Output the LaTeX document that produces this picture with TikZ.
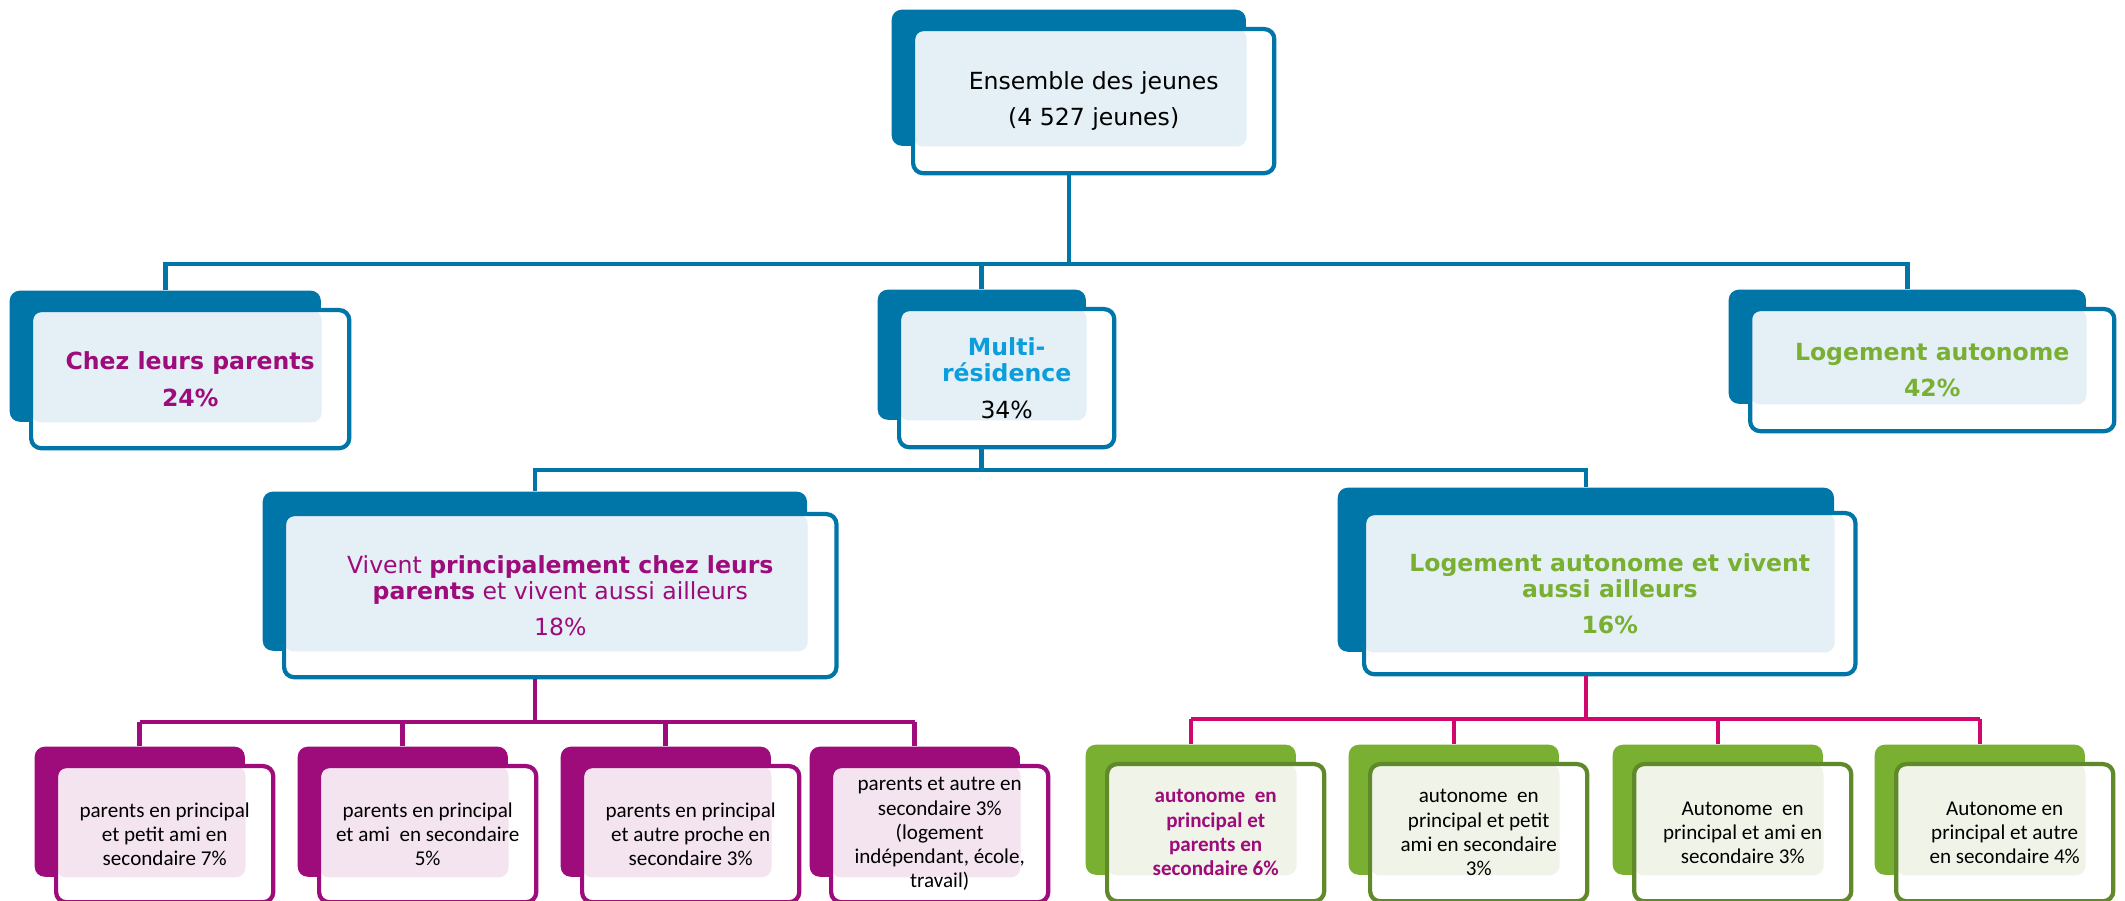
\documentclass[tikz,border=0pt]{standalone}
\usepackage{fontspec}
\setmainfont{DejaVu Sans}
\newfontfamily\calibfont{Carlito}
\usepackage{tikz}
\definecolor{bleuC}{RGB}{0,118,168}
\definecolor{bleuP}{RGB}{228,239,246}
\definecolor{cyanT}{RGB}{12,157,220}
\definecolor{prune}{RGB}{158,11,123}
\definecolor{pruneP}{RGB}{243,228,240}
\definecolor{rose}{RGB}{208,8,110}
\definecolor{vertC}{RGB}{122,176,50}
\definecolor{vertF}{RGB}{96,138,42}
\definecolor{vertP}{RGB}{240,244,232}
\newcommand\prunebf[1]{\textcolor{prune}{\textbf{#1}}}

\begin{document}
\begin{tikzpicture}[x=0.01cm, y=-0.01cm, line join=miter,
  back/.style={rounded corners=0.1cm, inner sep=0pt, anchor=north west},
  front/.style={draw=#1, line width=1.2pt, fill=white, rounded corners=0.1cm, inner sep=0pt,
    anchor=north west, align=center, font=\fontsize{6.7}{7.4}\selectfont},
  pale/.style 2 args={path picture={\fill[#1, rounded corners=0.1cm]
    (path picture bounding box.north west) rectangle (#2.south east);}},
  lien/.style={draw=#1, line width=1.3pt}]
  \useasboundingbox (0,0) rectangle (2125,901);
  %--- Ensemble des jeunes
    \node[back, fill=bleuC, minimum width=3.54cm, minimum height=1.36cm] (top-b) at (891,9) {};
    \node[front=bleuC, pale={bleuP}{top-b}, minimum width=3.61cm, minimum height=1.44cm] (top)
      at ([shift={(20,18)}]top-b.north west) {Ensemble des jeunes\\[3pt](4 527 jeunes)};
  %--- Chez leurs parents
    \node[back, fill=bleuC, minimum width=3.11cm, minimum height=1.31cm] (chez-b) at (9,290) {};
    \node[front=bleuC, pale={bleuP}{chez-b}, text=prune, minimum width=3.18cm, minimum height=1.38cm] (chez)
      at ([shift={(20,18)}]chez-b.north west) {\bfseries Chez leurs parents\\[3pt]\bfseries 24\%};
  %--- Multi-residence
    \node[back, fill=bleuC, minimum width=2.08cm, minimum height=1.30cm] (multi-b) at (877,289) {};
    \node[front=bleuC, pale={bleuP}{multi-b}, minimum width=2.15cm, minimum height=1.38cm] (multi)
      at ([shift={(20,18)}]multi-b.north west)
      {\textcolor{cyanT}{\textbf{Multi-}}\\\textcolor{cyanT}{\textbf{résidence}}\\[3pt]34\%};
  %--- Logement autonome
    \node[back, fill=bleuC, minimum width=3.57cm, minimum height=1.14cm] (logt-b) at (1728,289) {};
    \node[front=bleuC, pale={bleuP}{logt-b}, text=vertC, minimum width=3.64cm, minimum height=1.22cm] (logt)
      at ([shift={(20,18)}]logt-b.north west) {\bfseries Logement autonome\\[3pt]\bfseries 42\%};
  %--- Vivent chez leurs parents et ailleurs
    \node[back, fill=bleuC, minimum width=5.44cm, minimum height=1.59cm] (viv-b) at (262,491) {};
    \node[front=bleuC, pale={bleuP}{viv-b}, text=prune, minimum width=5.52cm, minimum height=1.63cm] (viv)
      at ([shift={(20,21)}]viv-b.north west)
      {Vivent \textbf{principalement chez leurs}\\\textbf{parents} et vivent aussi ailleurs\\[3pt]18\%};
  %--- Logement autonome et ailleurs
    \node[back, fill=bleuC, minimum width=4.96cm, minimum height=1.64cm] (autviv-b) at (1337,487) {};
    \node[front=bleuC, pale={bleuP}{autviv-b}, text=vertC, minimum width=4.91cm, minimum height=1.61cm] (autviv)
      at ([shift={(25,24)}]autviv-b.north west)
      {\bfseries Logement autonome et vivent\\\bfseries aussi ailleurs\\[3pt]\bfseries 16\%};
  %--- bus lines
    \coordinate (bus1) at (0,264);
    \coordinate (bus2) at (0,470);
    \coordinate (bus3) at (0,722);
    \coordinate (bus4) at (0,719);
    \draw[lien=bleuC] (top-b.south |- top.south) -- (top-b.south |- bus1);
    \draw[lien=bleuC] (chez-b.north) -- (chez-b.north |- bus1) -- (logt-b.north |- bus1) -- (logt-b.north);
    \draw[lien=bleuC] (multi-b.north) -- (multi-b.north |- bus1);
    \draw[lien=bleuC] (multi-b.south |- multi.south) -- (multi-b.south |- bus2);
    \draw[lien=bleuC] (viv-b.north) -- (viv-b.north |- bus2) -- (autviv-b.north |- bus2) -- (autviv-b.north);
  %--- parents en principal
    \foreach \n/\x/\txt in {p1/34/{parents en principal\\et petit ami en\\secondaire 7\%},
        p2/297/{parents en principal\\et ami~ en secondaire\\5\%},
        p3/560/{parents en principal\\et autre proche en\\secondaire 3\%},
        p4/809/{parents et autre en\\secondaire 3\%\\(logement\\indépendant, école,\\travail)}}{
      \node[back, fill=prune, minimum width=2.1cm, minimum height=1.3cm] (\n-b) at (\x,746) {};
      \node[front=prune, pale={pruneP}{\n-b}, font=\calibfont\fontsize{6}{6.9}\selectfont,
        minimum width=2.17cm, minimum height=1.36cm] (\n) at ([shift={(20,18)}]\n-b.north west) {\txt};
      \draw[lien=prune] (\n-b.north) -- (\n-b.north |- bus3);
    }
    \draw[lien=prune] (viv-b.south |- viv.south) -- (viv-b.south |- bus3);
    \draw[lien=prune] (p1-b.north |- bus3) -- (p4-b.north |- bus3);
  %--- autonome en principal
    \foreach \n/\x/\txt in {v1/1085/{\prunebf{autonome~ en}\\\prunebf{principal et}\\\prunebf{parents en}\\\prunebf{secondaire 6\%}},
        v2/1348/{autonome~ en\\principal et petit\\ami en secondaire\\3\%},
        v3/1612/{Autonome~ en\\principal et ami en\\secondaire 3\%},
        v4/1874/{Autonome en\\principal et autre\\en secondaire 4\%}}{
      \node[back, fill=vertC, minimum width=2.1cm, minimum height=1.3cm] (\n-b) at (\x,744) {};
      \node[front=vertF, pale={vertP}{\n-b}, font=\calibfont\fontsize{6}{6.9}\selectfont,
        minimum width=2.17cm, minimum height=1.37cm] (\n) at ([shift={(20,18)}]\n-b.north west) {\txt};
      \draw[lien=rose] (\n-b.north) -- (\n-b.north |- bus4);
    }
    \draw[lien=rose] (autviv-b.south |- autviv.south) -- (autviv-b.south |- bus4);
    \draw[lien=rose] (v1-b.north |- bus4) -- (v4-b.north |- bus4);
\end{tikzpicture}
\end{document}
